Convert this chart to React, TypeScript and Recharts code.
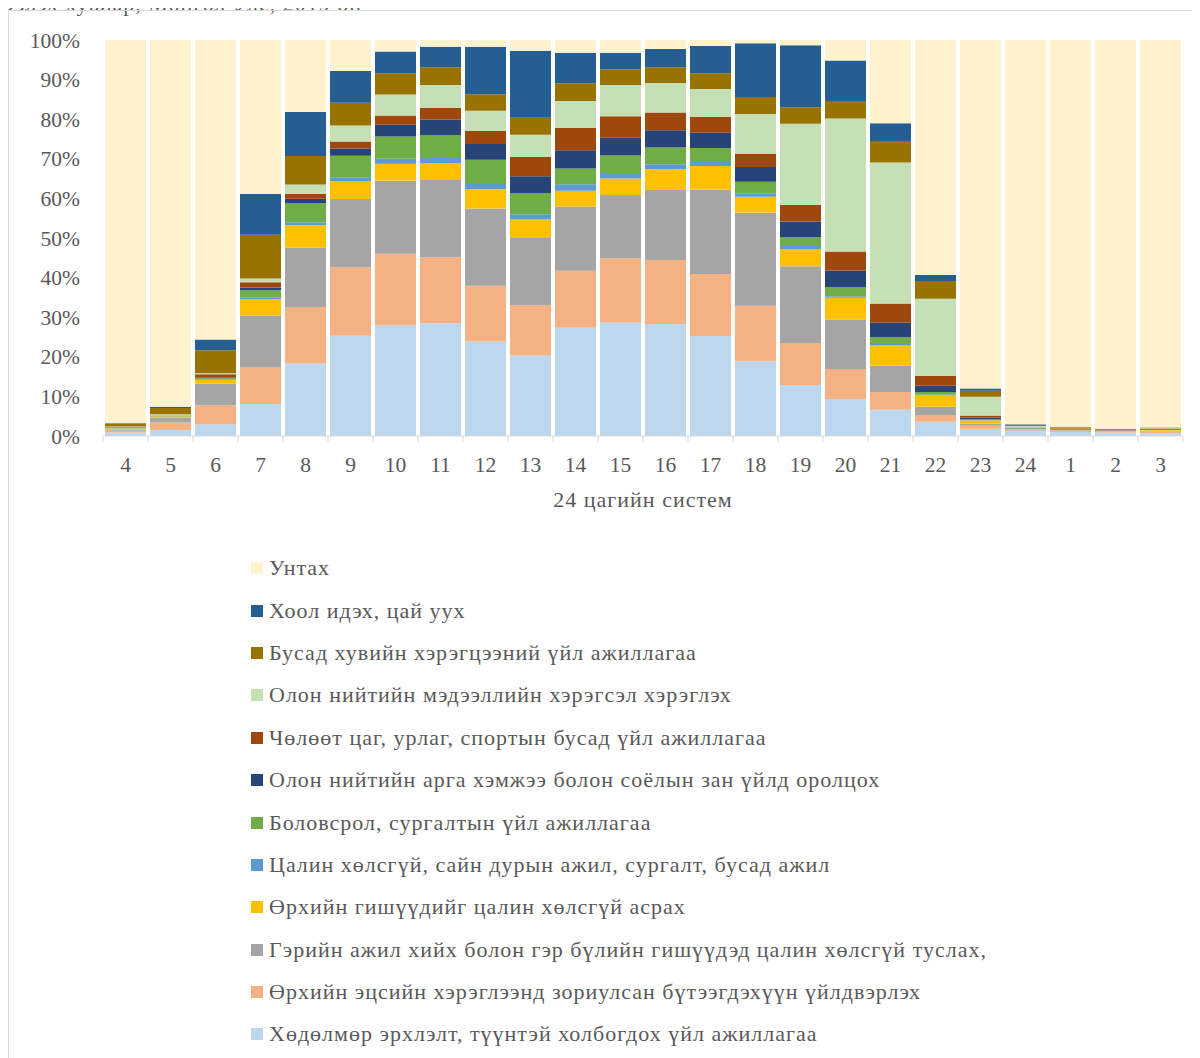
import { BarChart, Bar, XAxis, YAxis, Legend } from "recharts";

const hours = ["4", "5", "6", "7", "8", "9", "10", "11", "12", "13", "14", "15", "16", "17", "18", "19", "20", "21", "22", "23", "24", "1", "2", "3"];

// 24 цагийн туршид үйл ажиллагаа бүрийн эзлэх хувь
const work = [0.9, 1.5, 3.0, 8.1, 18.3, 25.3, 28.0, 28.5, 23.9, 20.4, 27.3, 28.7, 28.3, 25.3, 18.9, 12.9, 9.3, 6.6, 3.6, 1.8, 1.2, 1.0, 0.9, 0.7];
const production = [0.4, 1.9, 4.8, 9.2, 14.3, 17.3, 18.1, 16.7, 14.1, 12.7, 14.4, 16.2, 16.2, 15.7, 14.0, 10.6, 7.6, 4.5, 1.7, 0.8, 0.2, 0.3, 0.2, 0.5];
const housework = [0.3, 1.3, 5.4, 13.1, 15.0, 17.2, 18.4, 19.5, 19.5, 17.2, 16.2, 16.0, 17.7, 21.4, 23.5, 19.4, 12.5, 6.6, 2.1, 0.5, 0.2, 0.15, 0.1, 0.15];
const care = [0.3, 0.2, 1.0, 4.2, 5.7, 4.5, 4.3, 4.3, 4.9, 4.5, 4.0, 4.2, 5.3, 5.9, 4.0, 4.4, 5.5, 5.1, 2.8, 0.8, 0.2, 0.1, 0.1, 0.15];
const volunteer = [0.05, 0.05, 0.1, 0.3, 0.7, 1.0, 1.3, 1.3, 1.3, 1.3, 1.6, 1.4, 1.2, 1.3, 0.9, 0.7, 0.4, 0.4, 0.3, 0.1, 0.05, 0.05, 0.05, 0.05];
const education = [0.1, 0.1, 0.3, 1.9, 4.9, 5.4, 5.6, 5.8, 6.1, 5.4, 4.0, 4.4, 4.2, 3.3, 2.9, 2.3, 2.3, 1.7, 0.6, 0.2, 0.1, 0.05, 0.05, 0.05];
const events = [0.05, 0.05, 0.2, 0.7, 1.1, 1.8, 3.0, 3.9, 4.0, 4.2, 4.6, 4.5, 4.4, 3.8, 3.7, 3.9, 4.2, 3.7, 1.6, 0.5, 0.1, 0.1, 0.05, 0.1];
const leisure = [0.1, 0.1, 0.8, 1.3, 1.2, 1.8, 2.3, 2.9, 3.3, 4.9, 5.6, 5.4, 4.5, 4.0, 3.4, 4.2, 4.8, 4.8, 2.5, 0.5, 0.1, 0.05, 0.05, 0.15];
const media = [0.2, 0.3, 0.3, 1.0, 2.4, 4.0, 5.3, 5.8, 5.1, 5.6, 6.8, 7.9, 7.4, 7.1, 10.0, 20.5, 33.6, 35.6, 19.4, 4.7, 0.4, 0.1, 0.1, 0.1];
const personal = [0.6, 1.6, 5.8, 11.0, 7.2, 5.8, 5.4, 4.5, 4.2, 4.3, 4.5, 4.0, 4.0, 4.0, 4.3, 4.2, 4.4, 5.4, 4.5, 1.5, 0.3, 0.1, 0.2, 0.1];
const eating = [0.2, 0.3, 2.7, 10.3, 11.1, 8.0, 5.5, 5.2, 12.0, 17.0, 7.7, 4.2, 4.6, 6.9, 13.6, 15.7, 10.2, 4.5, 1.5, 0.6, 0.1, 0.2, 0.05, 0.1];
const sleep = [96.8, 92.6, 75.8, 38.9, 18.2, 7.8, 2.9, 1.7, 1.7, 2.7, 3.2, 3.2, 2.3, 1.5, 0.8, 1.3, 5.2, 21.0, 59.3, 88.0, 97.0, 97.8, 98.2, 97.9];

const series = [
  { key: "work", name: "Хөдөлмөр эрхлэлт, түүнтэй холбогдох үйл ажиллагаа", color: "#BDD7EE", values: work },
  { key: "production", name: "Өрхийн эцсийн хэрэглээнд зориулсан бүтээгдэхүүн үйлдвэрлэх", color: "#F4B183", values: production },
  { key: "housework", name: "Гэрийн ажил хийх болон гэр бүлийн гишүүдэд цалин хөлсгүй туслах,", color: "#A5A5A5", values: housework },
  { key: "care", name: "Өрхийн гишүүдийг цалин хөлсгүй асрах", color: "#FFC000", values: care },
  { key: "volunteer", name: "Цалин хөлсгүй, сайн дурын ажил, сургалт, бусад ажил", color: "#5B9BD5", values: volunteer },
  { key: "education", name: "Боловсрол, сургалтын үйл ажиллагаа", color: "#70AD47", values: education },
  { key: "events", name: "Олон нийтийн арга хэмжээ болон соёлын зан үйлд оролцох", color: "#264478", values: events },
  { key: "leisure", name: "Чөлөөт цаг, урлаг, спортын бусад үйл ажиллагаа", color: "#9E480E", values: leisure },
  { key: "media", name: "Олон нийтийн мэдээллийн хэрэгсэл хэрэглэх", color: "#C5E0B4", values: media },
  { key: "personal", name: "Бусад хувийн хэрэгцээний үйл ажиллагаа", color: "#997300", values: personal },
  { key: "eating", name: "Хоол идэх, цай уух", color: "#255E91", values: eating },
  { key: "sleep", name: "Унтах", color: "#FFF2CC", values: sleep },
];

const data = hours.map((h, i) => {
  const row: Record<string, string | number> = { hour: h };
  series.forEach((s) => {
    row[s.key] = s.values[i];
  });
  return row;
});

const yTicks = [0, 0.1, 0.2, 0.3, 0.4, 0.5, 0.6, 0.7, 0.8, 0.9, 1];
const font = "'Liberation Serif', 'Times New Roman', serif";
const textGray = "#595959";

const HourTick = (props: any) => {
  const { x, y, payload, index } = props;
  const half = 22.5;
  return (
    <g>
      <line x1={x - half} x2={x - half} y1={y - 21} y2={y - 15} stroke="#d9d9d9" />
      {index === hours.length - 1 && (
        <line x1={x + half} x2={x + half} y1={y - 21} y2={y - 15} stroke="#d9d9d9" />
      )}
      <text x={x} y={y} dy="0.71em" textAnchor="middle" fill={textGray} fontSize={21.5} fontFamily={font}>
        {payload.value}
      </text>
    </g>
  );
};

// legend in the reverse of the stacking order, as in the source chart
const LegendList = () => {
  const items = [...series].reverse();
  return (
    <div style={{ paddingTop: 21, fontFamily: font, fontSize: 22, letterSpacing: 1, color: textGray }}>
      {items.map((it) => (
        <div key={it.key} style={{ height: 42.4, display: "flex", alignItems: "center", whiteSpace: "nowrap" }}>
          <span style={{ display: "inline-block", width: 12, height: 12, background: it.color, marginRight: 6 }} />
          {it.name}
        </div>
      ))}
    </div>
  );
};

export default function App() {
  return (
    <div style={{ position: "relative", width: 1192, height: 1050, fontFamily: font }}>
      <div
        style={{
          position: "absolute",
          left: -8,
          top: -15,
          fontSize: 22,
          letterSpacing: 1,
          lineHeight: "22px",
          color: textGray,
          whiteSpace: "nowrap",
        }}
      >
        Эзлэх хувиар, Монгол Улс, 2019 он
      </div>
      <div
        style={{
          position: "absolute",
          left: 0,
          top: 2,
          width: 1191,
          height: 1048,
          borderLeft: "1px solid #d9d9d9",
          borderTop: "1px solid #d9d9d9",
          boxSizing: "border-box",
        }}
      />
      <BarChart
        width={1192}
        height={1050}
        data={data}
        stackOffset="expand"
        barCategoryGap={2}
        margin={{ top: 32, right: 17, bottom: 0, left: 0 }}
        style={{ position: "absolute", left: 0, top: 0 }}
      >
        <XAxis
          dataKey="hour"
          height={90}
          axisLine={{ stroke: "#d9d9d9" }}
          tickLine={false}
          tickSize={6}
          tickMargin={15}
          interval={0}
          tick={<HourTick />}
          label={{
            value: "24 цагийн систем",
            position: "insideBottom",
            offset: 19,
            fill: textGray,
            fontSize: 22,
            letterSpacing: 1,
            fontFamily: font,
          }}
        />
        <YAxis
          width={95}
          domain={[0, 1]}
          ticks={yTicks}
          axisLine={false}
          tickLine={false}
          tickSize={6}
          tickMargin={17}
          tickFormatter={(v: number) => `${Math.round(v * 100)}%`}
          tick={{ fill: textGray, fontSize: 21.5, fontFamily: font }}
        />
        <Legend
          layout="vertical"
          verticalAlign="bottom"
          align="center"
          content={<LegendList />}
          wrapperStyle={{ left: 243, width: 940, height: 532 }}
        />
        {series.map((s) => (
          <Bar
            key={s.key}
            dataKey={s.key}
            name={s.name}
            stackId="a"
            fill={s.color}
            isAnimationActive={false}
          />
        ))}
      </BarChart>
    </div>
  );
}
